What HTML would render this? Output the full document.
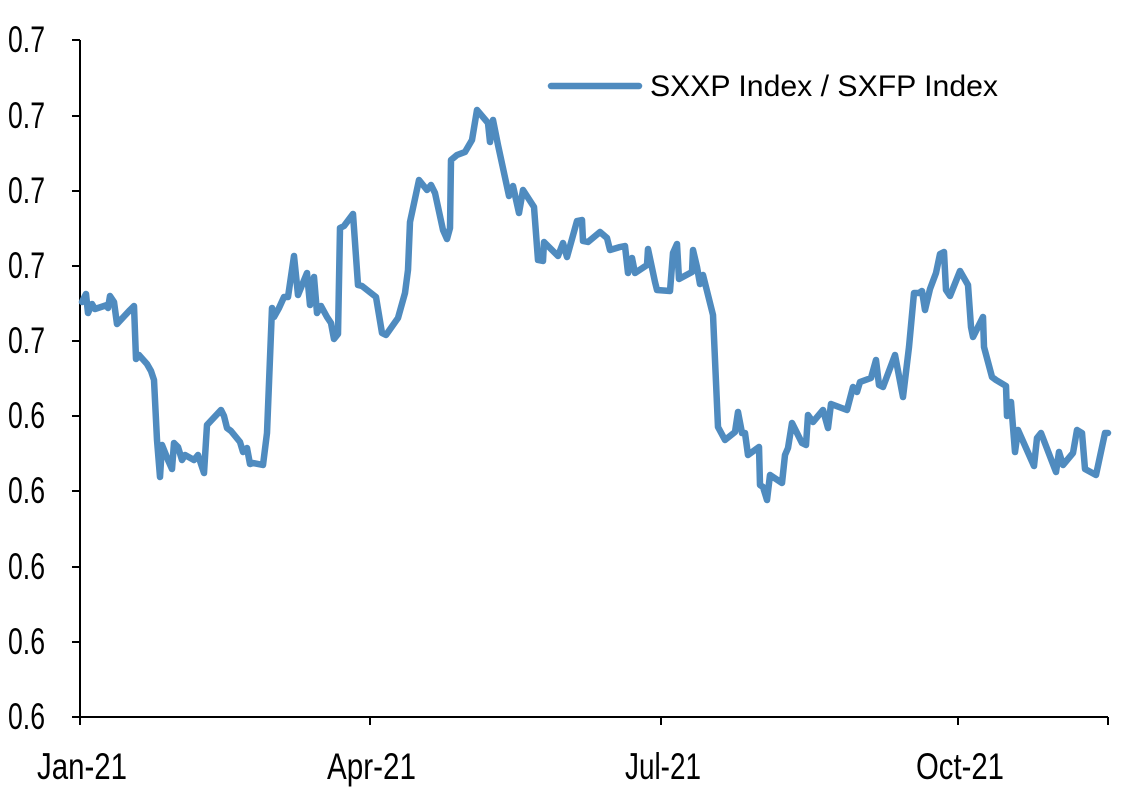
<!DOCTYPE html>
<html><head><meta charset="utf-8"><style>
html,body{margin:0;padding:0;background:#fff;}
svg{display:block;font-family:"Liberation Sans",Arial,sans-serif;}
</style></head><body>
<svg width="1123" height="791" viewBox="0 0 1123 791">
<g fill="#000" font-size="37" text-anchor="end">
<text x="45" y="52" textLength="37" lengthAdjust="spacingAndGlyphs">0.7</text>
<text x="45" y="128" textLength="37" lengthAdjust="spacingAndGlyphs">0.7</text>
<text x="45" y="203" textLength="37" lengthAdjust="spacingAndGlyphs">0.7</text>
<text x="45" y="278" textLength="37" lengthAdjust="spacingAndGlyphs">0.7</text>
<text x="45" y="353" textLength="37" lengthAdjust="spacingAndGlyphs">0.7</text>
<text x="45" y="428" textLength="37" lengthAdjust="spacingAndGlyphs">0.6</text>
<text x="45" y="503" textLength="37" lengthAdjust="spacingAndGlyphs">0.6</text>
<text x="45" y="579" textLength="37" lengthAdjust="spacingAndGlyphs">0.6</text>
<text x="45" y="654" textLength="37" lengthAdjust="spacingAndGlyphs">0.6</text>
<text x="45" y="729" textLength="37" lengthAdjust="spacingAndGlyphs">0.6</text>
</g>
<g fill="#000" font-size="37">
<text x="37" y="779" textLength="90" lengthAdjust="spacingAndGlyphs">Jan-21</text>
<text x="327" y="779" textLength="89" lengthAdjust="spacingAndGlyphs">Apr-21</text>
<text x="625" y="779" textLength="76" lengthAdjust="spacingAndGlyphs">Jul-21</text>
<text x="916" y="779" textLength="88" lengthAdjust="spacingAndGlyphs">Oct-21</text>
</g>
<g stroke="#000" stroke-width="2">
<line x1="80" y1="40" x2="80" y2="718"/>
<line x1="79" y1="717" x2="1108" y2="717"/>
<line x1="72" y1="40" x2="80" y2="40"/><line x1="72" y1="116" x2="80" y2="116"/>
<line x1="72" y1="191" x2="80" y2="191"/><line x1="72" y1="266" x2="80" y2="266"/>
<line x1="72" y1="341" x2="80" y2="341"/><line x1="72" y1="416" x2="80" y2="416"/>
<line x1="72" y1="491" x2="80" y2="491"/><line x1="72" y1="567" x2="80" y2="567"/>
<line x1="72" y1="642" x2="80" y2="642"/><line x1="72" y1="717" x2="80" y2="717"/>
<line x1="80" y1="717" x2="80" y2="725"/><line x1="370" y1="717" x2="370" y2="725"/>
<line x1="661" y1="717" x2="661" y2="725"/><line x1="958" y1="717" x2="958" y2="725"/>
<line x1="1108" y1="717" x2="1108" y2="725"/>
</g>
<polyline fill="none" stroke="#4f8bbf" stroke-width="6.5" stroke-linejoin="round" stroke-linecap="round" points="
82,302 86,294 88,313 92,304 95,309 107,305 108,308 110,296 114,302 117,324 130,310 134,306 136,359 139,355 147,364 151,371 154,380 157,440 160,477 162,445 168,460 172,469 174,443 178,447 182,460 185,455 194,460 198,455 204,473 207,425 221,410 224,416 227,428 231,431 240,442 243,452 247,448 250,464 253,463 263,465 267,433 272,308 274,317 279,308 284,297 288,297 294,256 298,295 307,273 310,305 314,277 317,313 321,306 327,317 331,323 334,339 338,334 340,228 344,226 353,214 358,285 362,286 376,297 382,333 386,335 398,318 405,293 408,270 410,222 419,180 427,190 431,185 435,193 443,230 447,239 450,228 451,160 457,155 465,152 472,140 477,110 488,123 490,142 493,120 498,145 509,196 513,186 519,213 523,190 534,207 538,260 543,261 544,242 558,256 563,243 567,257 577,221 582,220 583,241 588,242 600,232 607,238 610,250 620,247 625,246 628,273 632,258 635,273 647,265 648,249 655,282 657,290 670,291 673,253 677,244 679,279 692,272 693,250 697,267 700,284 703,275 713,315 718,427 725,440 735,432 738,412 742,433 745,433 748,455 759,447 760,485 763,487 767,500 770,475 782,483 785,455 788,448 792,423 802,443 806,445 808,415 813,422 823,410 828,428 831,404 847,410 853,387 857,392 860,382 871,378 876,360 879,385 883,387 895,355 903,397 909,347 914,293 919,293 922,291 925,310 930,289 936,273 940,254 944,252 946,290 950,296 960,271 968,285 971,327 973,337 983,317 984,347 992,377 996,380 1006,386 1007,416 1011,402 1015,452 1018,430 1034,466 1037,438 1041,433 1056,472 1059,452 1063,465 1073,453 1077,430 1082,433 1085,469 1096,475 1105,433 1108,433"/>
<line x1="551" y1="86" x2="639" y2="86" stroke="#4f8bbf" stroke-width="6.5" stroke-linecap="round"/>
<text x="650" y="96" font-size="30" fill="#000" textLength="348" lengthAdjust="spacingAndGlyphs">SXXP Index / SXFP Index</text>
</svg>
</body></html>
